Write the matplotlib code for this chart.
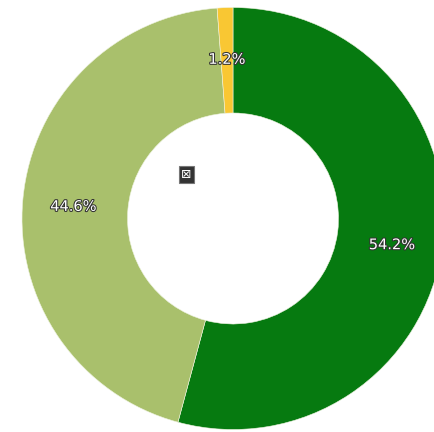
import matplotlib
matplotlib.use('Agg')
import matplotlib.pyplot as plt
import matplotlib.patheffects as pe

shares = [54.2, 44.6, 1.2]
slice_colors = ['#067a10', '#a9c06c', '#f9c733']

fig = plt.figure(figsize=(4.35, 4.32), dpi=100)
ax = fig.add_axes([22 / 435, 2.5 / 432, 422 / 435, 422 / 432])

wedges, _, autotexts = ax.pie(
    shares,
    colors=slice_colors,
    startangle=90,
    counterclock=False,
    radius=1.0,
    autopct='%.1f%%',
    pctdistance=0.76,
    wedgeprops={'width': 0.5, 'edgecolor': '#eef3e0', 'linewidth': 0.4},
    textprops={'fontsize': 10.5, 'color': 'white'},
)
# nudge the percent labels down a touch
for t, dy in zip(autotexts, [0.024, 0.014, 0.005]):
    x, y = t.get_position()
    t.set_position((x, y - dy))
    t.set_path_effects([pe.withStroke(linewidth=1.5, foreground='#333333')])

# small marker sitting in the hole
ax.text(-0.22, 0.21, '\u22a0', fontsize=9, color='white', ha='center', va='center',
        bbox={'boxstyle': 'square,pad=0.15', 'facecolor': '#333333', 'edgecolor': '#777777', 'linewidth': 0.8})

ax.set_xlim(-1, 1)
ax.set_ylim(-1, 1)
ax.set_aspect('equal')

fig.savefig('out.png', dpi=100)
